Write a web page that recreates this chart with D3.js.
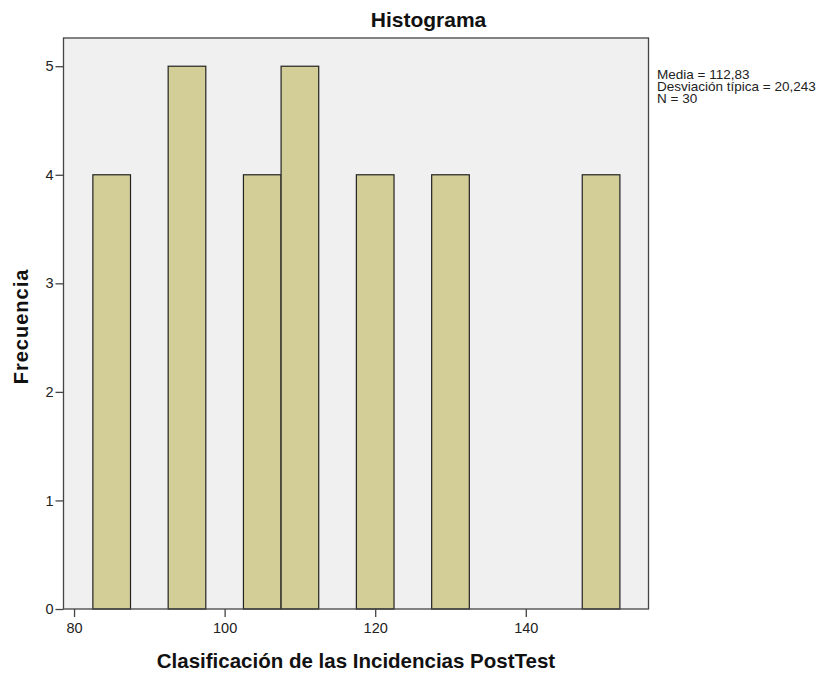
<!DOCTYPE html>
<html><head><meta charset="utf-8">
<script src="https://cdn.jsdelivr.net/npm/d3@7/dist/d3.min.js"></script>
<style>body{margin:0;background:#fff}svg text{font-family:"Liberation Sans",Arial,sans-serif}</style>
</head><body><svg id="c" width="836" height="673"></svg>
<script>
const binStarts = [82.5, 92.5, 102.5, 107.5, 117.5, 127.5, 147.5];
const binWidth = 5;
const counts = [4, 5, 4, 5, 4, 4, 4];
const xTicks = [80, 100, 120, 140];
const yTicks = [0, 1, 2, 3, 4, 5];
const statsLines = ["Media = 112,83", "Desviación típica = 20,243", "N = 30"];

const svg = d3.select("#c");
const L = 63.5, R = 648.5, T = 38, B = 609;
const x = d3.scaleLinear().domain([78.6, 156.3]).range([L, R]);
const y = d3.scaleLinear().domain([0, 5.26]).range([B, T]);

svg.append("rect").attr("x", L).attr("y", T).attr("width", R - L).attr("height", B - T)
  .attr("fill", "#f0f0f0");

svg.selectAll("rect.bar").data(binStarts).enter().append("rect").attr("class", "bar")
  .attr("x", d => x(d)).attr("width", d => x(d + binWidth) - x(d))
  .attr("y", (d, i) => y(counts[i])).attr("height", (d, i) => B - y(counts[i]))
  .attr("fill", "#d3ce97").attr("stroke", "#222").attr("stroke-width", 1.2);

svg.append("rect").attr("x", L).attr("y", T).attr("width", R - L).attr("height", B - T)
  .attr("fill", "none").attr("stroke", "#444").attr("stroke-width", 1.3);

const xa = svg.append("g").attr("transform", `translate(0,${B})`)
  .call(d3.axisBottom(x).tickValues(xTicks).tickFormat(d3.format("d")).tickSize(8).tickSizeOuter(0).tickPadding(6));
xa.select(".domain").remove();
xa.selectAll("line").attr("stroke", "#444").attr("stroke-width", 1.3);
xa.selectAll("text").attr("font-size", 14.5).attr("fill", "#222");

const ya = svg.append("g").attr("transform", `translate(${L},0)`)
  .call(d3.axisLeft(y).tickValues(yTicks).tickFormat(d3.format("d")).tickSize(8).tickSizeOuter(0).tickPadding(2));
ya.select(".domain").remove();
ya.selectAll("line").attr("stroke", "#444").attr("stroke-width", 1.3);
ya.selectAll("text").attr("font-size", 14.5).attr("fill", "#222");

svg.append("text").attr("x", 428.5).attr("y", 27).attr("text-anchor", "middle")
  .attr("font-size", 21).attr("font-weight", "bold").attr("fill", "#111").text("Histograma");

svg.append("text").attr("x", 356).attr("y", 668).attr("text-anchor", "middle")
  .attr("font-size", 20.5).attr("font-weight", "bold").attr("fill", "#111")
  .text("Clasificación de las Incidencias PostTest");

svg.append("text").attr("transform", "translate(28,326.5) rotate(-90)").attr("text-anchor", "middle")
  .attr("font-size", 20).attr("font-weight", "bold").attr("letter-spacing", 1).attr("fill", "#111").text("Frecuencia");

svg.selectAll("text.stat").data(statsLines).enter().append("text").attr("class", "stat")
  .attr("x", 657).attr("y", (d, i) => 79 + i * 12).attr("font-size", 13.5).attr("fill", "#222")
  .text(d => d);
</script></body></html>
